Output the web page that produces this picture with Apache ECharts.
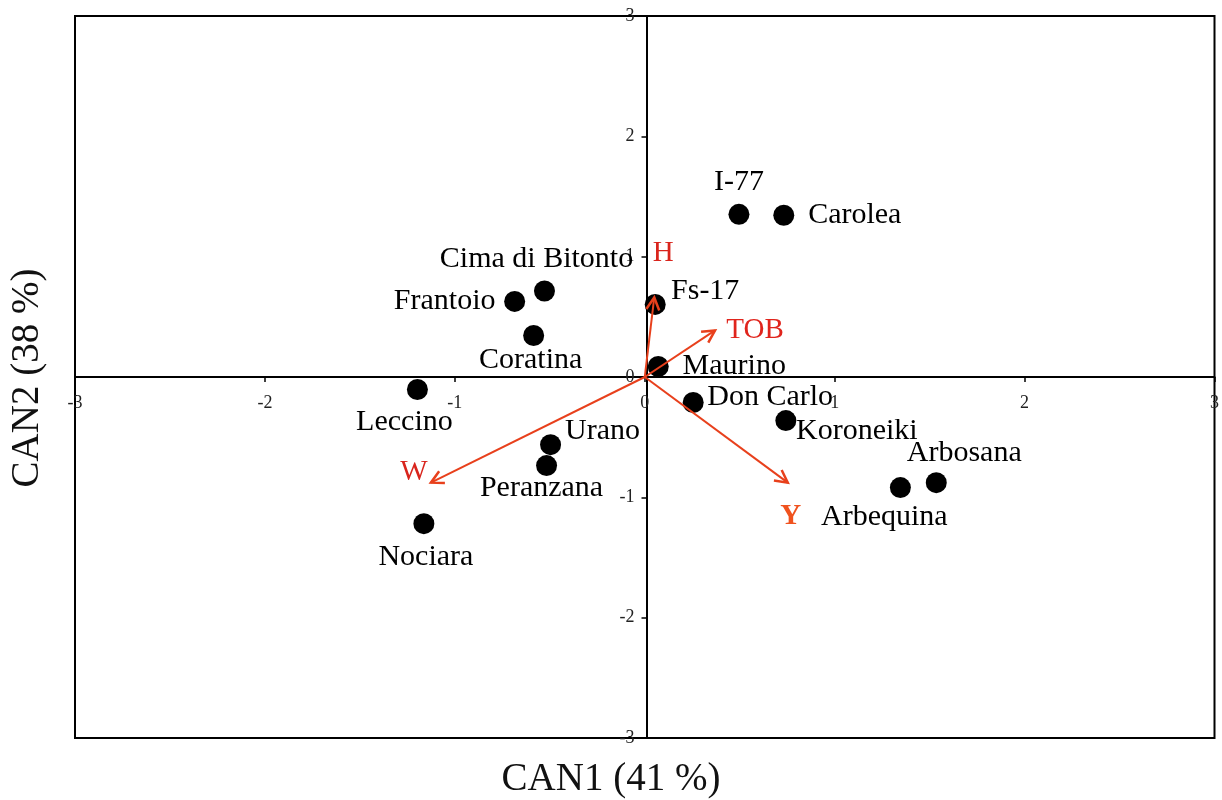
<!DOCTYPE html>
<html>
<head>
<meta charset="utf-8">
<script src="https://cdn.jsdelivr.net/npm/echarts@6/dist/echarts.min.js"></script>
<style>html,body{margin:0;padding:0;background:#fff}#c{width:1222px;height:800px}</style>
</head>
<body>
<div id="c"></div>
<script>
const cultivars = ['I-77','Carolea','Cima di Bitonto','Frantoio','Coratina','Fs-17','Maurino','Leccino','Don Carlo','Koroneiki','Urano','Peranzana','Arbosana','Arbequina','Nociara'];
const can1 = [0.496, 0.732, -0.528, -0.685, -0.585, 0.055, 0.071, -1.197, 0.255, 0.743, -0.496, -0.517, 1.535, 1.346, -1.163];
const can2 = [1.352, 1.344, 0.715, 0.628, 0.345, 0.603, 0.087, -0.104, -0.212, -0.362, -0.562, -0.736, -0.878, -0.919, -1.219];
const variables = ['H','TOB','W','Y'];
const varCan1 = [0.050, 0.370, -1.126, 0.753];
const varCan2 = [0.661, 0.387, -0.878, -0.878];
const tickValues = [-3,-2,-1,0,1,2,3];

// label placement (pixel offsets from point centre) — styling only
const labelOffsets = {
  'I-77':[0,-32],'Carolea':[71,0],'Cima di Bitonto':[-8,-32],'Frantoio':[-70,0],
  'Coratina':[-3,25],'Fs-17':[50,-13],'Maurino':[76,0],'Leccino':[-13,33],
  'Don Carlo':[77,-5],'Koroneiki':[71,11],'Urano':[52,-14],'Peranzana':[-5,23],
  'Arbosana':[28,-30],'Arbequina':[-16,30],'Nociara':[2,33]
};
const varStyle = {
  'H':{off:[9,-44],color:'#d9241c',weight:'normal'},
  'TOB':{off:[40,0],color:'#e0241c',weight:'normal'},
  'W':{off:[-17,-10],color:'#d9241c',weight:'normal'},
  'Y':{off:[3,34],color:'#f0521e',weight:'bold'}
};
const FONT = '"Liberation Serif","DejaVu Serif",serif';
const ARROW = '#e8401c';

const pointData = cultivars.map((n,i)=>({
  name:n, value:[can1[i],can2[i]],
  label:{offset:labelOffsets[n]}
}));
const varData = variables.map((n,i)=>({name:n, value:[varCan1[i],varCan2[i]]}));

const GRID = {left:75,right:4,top:16,bottom:62};
const gw = 1222-GRID.left-GRID.right, gh = 800-GRID.top-GRID.bottom;

const chart = echarts.init(document.getElementById('c'));
chart.setOption({
  animation:false,
  backgroundColor:'#fff',
  grid:Object.assign({show:true,borderColor:'#000',borderWidth:2,backgroundColor:'transparent'},GRID),
  xAxis:{
    type:'value',min:-3,max:3,interval:1,position:'bottom',offset:-gh/2,
    axisLine:{onZero:false,lineStyle:{color:'#000',width:2}},
    axisTick:{show:true,length:5,lineStyle:{color:'#000',width:1.5}},
    axisLabel:{margin:17,fontFamily:FONT,fontSize:18,color:'#222',showMinLabel:true,showMaxLabel:true},
    splitLine:{show:false}
  },
  yAxis:{
    type:'value',min:-3,max:3,interval:1,position:'left',offset:-gw/2,
    axisLine:{onZero:false,lineStyle:{color:'#000',width:2}},
    axisTick:{show:true,length:5,lineStyle:{color:'#000',width:1.5}},
    axisLabel:{margin:12,fontFamily:FONT,fontSize:18,color:'#222',showMinLabel:true,showMaxLabel:true},
    splitLine:{show:false}
  },
  graphic:[
    {type:'text',left:'center',top:760,style:{text:'CAN1 (41 %)',font:'39px '+FONT,fill:'#111'}},
    {type:'text',x:8,y:378,rotation:Math.PI/2,style:{text:'CAN2 (38 %)',font:'39px '+FONT,fill:'#111',align:'center',verticalAlign:'top'}}
  ],
  series:[
    {
      type:'custom',
      data:varData,
      z:3,
      renderItem:function(params,api){
        const o = api.coord([0,0]);
        const t = api.coord([api.value(0),api.value(1)]);
        const name = variables[params.dataIndex];
        const st = varStyle[name];
        const ang = Math.atan2(t[1]-o[1],t[0]-o[0]);
        const L = 14, spread = Math.PI/6.5;
        const p1 = [t[0]-L*Math.cos(ang-spread), t[1]-L*Math.sin(ang-spread)];
        const p2 = [t[0]-L*Math.cos(ang+spread), t[1]-L*Math.sin(ang+spread)];
        return {type:'group',children:[
          {type:'line',shape:{x1:o[0],y1:o[1],x2:t[0],y2:t[1]},style:{stroke:ARROW,lineWidth:2}},
          {type:'polyline',shape:{points:[p1,t,p2]},style:{stroke:ARROW,lineWidth:2.5,fill:null,lineJoin:'miter'}},
          {type:'text',x:t[0]+st.off[0],y:t[1]+st.off[1],style:{text:name,fill:st.color,font:st.weight+' 29px '+FONT,align:'center',verticalAlign:'middle'}}
        ]};
      }
    },
    {
      type:'scatter',
      data:pointData,
      symbol:'circle',
      symbolSize:21,
      z:2,
      itemStyle:{color:'#000',opacity:1},
      emphasis:{disabled:true},
      label:{show:true,position:'inside',formatter:'{b}',fontFamily:FONT,fontSize:30,color:'#000',opacity:1,align:'center',verticalAlign:'middle'}
    }
  ]
});
</script>
</body>
</html>
